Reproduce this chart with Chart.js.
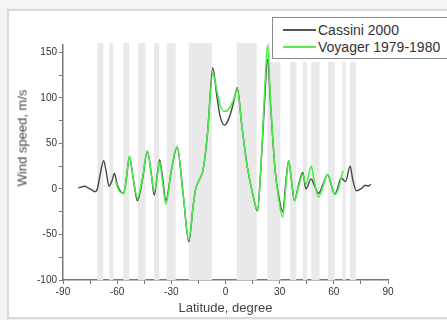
<!DOCTYPE html>
<html lang="en">
<head>
    <meta charset="UTF-8">
    <title>Wind speed vs latitude</title>
    <script src="https://cdn.jsdelivr.net/npm/chart.js"></script>
    <style>
        * { margin: 0; padding: 0; box-sizing: border-box; }
        body {
            width: 447px;
            height: 320px;
            background: #f4f4f6;
            font-family: 'Liberation Sans', Arial, sans-serif;
            position: relative;
            overflow: hidden;
        }
        .frame {
            position: absolute;
            left: 7px; top: 9px;
            width: 450px; height: 310px;
            background: #fff;
            border: 2px solid #d9d9de;
        }
        #chartBox {
            position: absolute;
            left: 0; top: 0;
            width: 447px; height: 320px;
        }
        .ytitle {
            position: absolute;
            left: 22px; top: 138px;
            transform: translate(-50%, -50%) rotate(-90deg);
            font-size: 13px;
            color: #444;
            white-space: nowrap;
        }
        .legend-bg {
            position: absolute;
            left: 270px; top: 12px;
            width: 177px; height: 50px;
            background: #fff;
        }
        .legend {
            position: absolute;
            left: 272px; top: 17px;
            width: 190px; height: 42px;
            border: 1.5px solid #8a8a8a;
            background: #fff;
            font-size: 14px;
            color: #333;
        }
        .legend div { height: 17px; line-height: 17px; margin-left: 10px; white-space: nowrap; }
        .legend div:first-child { margin-top: 4px; }
        .legend span {
            display: inline-block;
            width: 33px; height: 2px;
            vertical-align: middle;
            margin-right: 2px;
            position: relative; top: -1px;
        }
    </style>
</head>
<body>
    <div class="frame"></div>
    <div id="chartBox"><canvas id="windChart" width="447" height="320"></canvas></div>
    <div class="ytitle">Wind speed, m/s</div>
    <div class="legend-bg"></div>
    <div class="legend">
        <div><span style="background:#555"></span>Cassini 2000</div>
        <div><span style="background:#55f055"></span>Voyager 1979-1980</div>
    </div>

    <script>
        // latitude (degree) and wind speed (m/s)
        const cassiniLat = [-81.5, -80, -78, -76, -74, -72.5, -71, -69.5, -67.5, -66, -64.5, -63, -61.5, -60, -58, -56.5,
            -55, -53.2, -51, -48.8, -46, -43.3, -41, -39.5, -37.5, -36.5, -35, -33, -30, -26.8, -23.5, -20.3,
            -18, -16.5, -14, -12.5, -10, -7, -5, -3, -0.5, 2, 4.5, 6.5, 9, 12, 15, 17.7,
            19.5, 21.5, 23.3, 25, 27.5, 29.5, 31.7, 33.5, 35, 36.5, 38.2, 40.5, 42.8, 44.5, 47.5, 49,
            51.5, 54, 56.6, 58.5, 60.5, 62, 64, 66.5, 69, 70.5, 72.5, 75, 77.5, 79, 80.5];
        const cassiniSpeed = [1, 2, 3, 1, -1, -3, 0, 15, 31, 18, 3, 8, 17, 5, -3, -5,
            10, 35, 10, -13, 10, 41, 15, -7, 20, 32, 15, -13, 20, 46, -5, -58,
            -20, 0, 12, 20, 60, 133, 105, 80, 70, 78, 95, 111, 70, 25, -5, -24,
            20, 90, 142, 90, 20, -8, -25, 10, 31, 10, -13, 5, 18, 0, 11, 5,
            -5, 5, 16, 5, -6, 0, 12, 8, 25, 10, -2, 0, 4, 3, 5];

        const voyagerLat = [-61, -59, -56.5, -55, -53.2, -51, -48.8, -46, -43.3, -41, -39.5, -37.5, -36.5, -35, -33, -30,
            -26.8, -23.5, -20.3, -18, -16.5, -14, -12.5, -10, -7, -5, -3, -0.5, 2, 4.5, 6.5, 9,
            12, 15, 17.7, 19.5, 21.5, 23.3, 25, 27.5, 29.5, 31.7, 33.5, 35, 36.5, 38.2, 40.5, 42.8,
            44.5, 47.5, 49, 51.5, 54, 56.6, 58.5, 60.5, 62.5, 65];
        const voyagerSpeed = [9, -2, -5, 10, 36, 10, -10, 12, 42, 15, -3, 18, 30, 10, -17, 20,
            46, -5, -56, -20, 0, 12, 20, 60, 127, 110, 92, 85, 88, 98, 110, 70,
            25, -5, -23, 20, 100, 158, 95, 20, -12, -31, 5, 31, 10, -13, 3, 16,
            5, 25, 10, -9, 3, 16, 5, -6, 0, 20];

        // shaded latitude bands
        const bandStart = [-71, -64.4, -56.6, -48.5, -39.5, -32.6, -20.3, 6.2, 23.2, 35.8, 42.8, 47.5, 56.8, 64.8, 68.9];
        const bandEnd = [-67.7, -62.1, -53.4, -44.3, -36.7, -27.6, -7.5, 17.3, 30.4, 39.2, 45.2, 52.1, 60.5, 66.6, 72.2];

        const xTicks = [-90, -75, -60, -45, -30, -15, 0, 15, 30, 45, 60, 75, 90];
        const yTicks = [-100, -75, -50, -25, 0, 25, 50, 75, 100, 125, 150];

        const toPoints = (xs, ys) => xs.map((x, i) => ({x: x, y: ys[i]}));

        // grey bands behind the curves
        const bandsPlugin = {
            id: 'bands',
            beforeDatasetsDraw(chart) {
                const {ctx, chartArea, scales} = chart;
                ctx.save();
                ctx.fillStyle = '#e9e9e9';
                for (let i = 0; i < bandStart.length; i++) {
                    const x1 = scales.x.getPixelForValue(bandStart[i]);
                    const x2 = scales.x.getPixelForValue(bandEnd[i]);
                    ctx.fillRect(x1, chartArea.top - 2, x2 - x1, chartArea.bottom - chartArea.top + 2);
                }
                ctx.restore();
            }
        };

        const tickFont = {family: "'Liberation Sans', Arial, sans-serif", size: 10};

        new Chart(document.getElementById('windChart'), {
            type: 'line',
            data: {
                datasets: [{
                    label: 'Cassini 2000',
                    data: toPoints(cassiniLat, cassiniSpeed),
                    borderColor: '#474747',
                    borderWidth: 1.4,
                    pointRadius: 0,
                    order: 2,
                    cubicInterpolationMode: 'monotone'
                }, {
                    label: 'Voyager 1979-1980',
                    data: toPoints(voyagerLat, voyagerSpeed),
                    borderColor: '#44ee44',
                    borderWidth: 1.5,
                    pointRadius: 0,
                    order: 1,
                    cubicInterpolationMode: 'monotone'
                }]
            },
            options: {
                responsive: false,
                animation: false,
                layout: {padding: {top: 45, right: 59, left: 0, bottom: 0}},
                plugins: {
                    legend: {display: false},
                    tooltip: {enabled: false}
                },
                scales: {
                    x: {
                        type: 'linear',
                        min: -90,
                        max: 90,
                        afterBuildTicks: (scale) => { scale.ticks = xTicks.map(v => ({value: v})); },
                        afterFit: (scale) => { scale.height = 40; },
                        ticks: {
                            color: '#333',
                            font: tickFont,
                            padding: 2,
                            maxRotation: 0,
                            autoSkip: false,
                            callback: (v) => (v % 30 === 0 ? v : '')
                        },
                        grid: {drawOnChartArea: false, tickLength: 4, tickColor: '#777'},
                        border: {color: '#777', width: 1.5},
                        title: {
                            display: true,
                            text: 'Latitude, degree',
                            color: '#444',
                            font: {family: "'Liberation Sans', Arial, sans-serif", size: 13},
                            padding: {top: 0}
                        }
                    },
                    y: {
                        min: -100,
                        max: 158,
                        afterBuildTicks: (scale) => { scale.ticks = yTicks.map(v => ({value: v})); },
                        afterFit: (scale) => { scale.width = 63; },
                        ticks: {
                            color: '#333',
                            font: tickFont,
                            padding: 2,
                            autoSkip: false,
                            callback: (v) => (v % 50 === 0 ? v : '')
                        },
                        grid: {drawOnChartArea: false, tickLength: 4, tickColor: '#777'},
                        border: {color: '#777', width: 1.5}
                    }
                }
            },
            plugins: [bandsPlugin]
        });
    </script>
</body>
</html>
